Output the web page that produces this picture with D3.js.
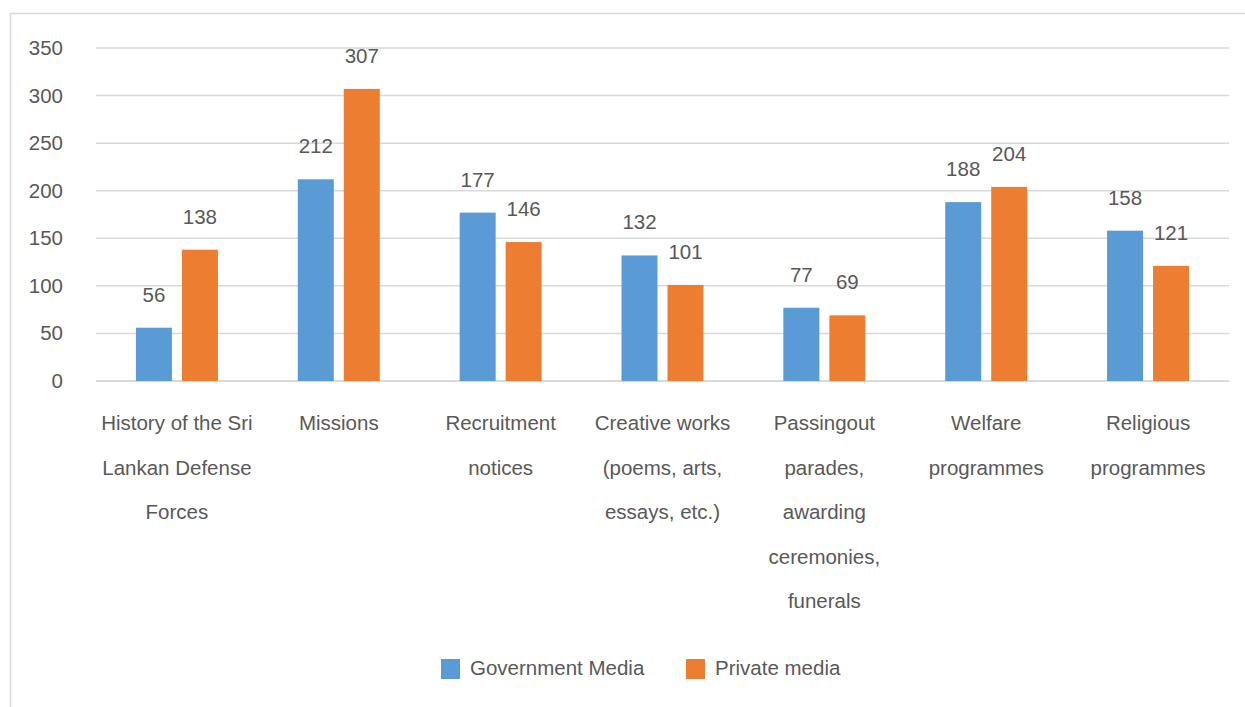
<!DOCTYPE html>
<html>
<head>
<meta charset="utf-8">
<script src="https://cdn.jsdelivr.net/npm/d3@7"></script>
<style>
  html, body { margin: 0; padding: 0; background: #fff; }
  svg { display: block; font-family: "Liberation Sans", Arial, sans-serif; }
</style>
</head>
<body>
<svg id="chart" width="1245" height="707"></svg>
<script>
// Content categories (line breaks mark how each axis label wraps)
const categories = [
  "History of the Sri\nLankan Defense\nForces",
  "Missions",
  "Recruitment\nnotices",
  "Creative works\n(poems, arts,\nessays, etc.)",
  "Passingout\nparades,\nawarding\nceremonies,\nfunerals",
  "Welfare\nprogrammes",
  "Religious\nprogrammes"
];
const seriesNames = ["Government Media", "Private media"];
const governmentMedia = [56, 212, 177, 132, 77, 188, 158];
const privateMedia = [138, 307, 146, 101, 69, 204, 121];
const yTicks = [0, 50, 100, 150, 200, 250, 300, 350];
const colors = ["#5b9bd5", "#ed7d31"];

const svg = d3.select("#chart");
const textColor = "#595959";
const gridColor = "#d9d9d9";
const fontSize = "20.5px";

// Outer chart frame (top and left edges)
svg.append("line").attr("x1", 10).attr("x2", 1245).attr("y1", 13.5).attr("y2", 13.5)
  .attr("stroke", gridColor).attr("stroke-width", 1.5);
svg.append("line").attr("x1", 10.5).attr("x2", 10.5).attr("y1", 13).attr("y2", 707)
  .attr("stroke", gridColor).attr("stroke-width", 1.5);

const plot = { left: 96, right: 1229, top: 48, bottom: 381 };

const x0 = d3.scaleBand().domain(d3.range(categories.length))
  .range([plot.left, plot.right]).paddingInner(0).paddingOuter(0);
const y = d3.scaleLinear().domain([0, 350]).range([plot.bottom, plot.top]);

// Horizontal gridlines
svg.append("g").selectAll("line").data(yTicks).join("line")
  .attr("x1", plot.left).attr("x2", plot.right)
  .attr("y1", d => y(d)).attr("y2", d => y(d))
  .attr("stroke", gridColor).attr("stroke-width", d => d === 0 ? 2 : 1.5);

// Y axis tick labels
const yAxis = d3.axisLeft(y).tickValues(yTicks).tickSize(0).tickPadding(0);
const yg = svg.append("g").attr("transform", `translate(${63},0)`).call(yAxis);
yg.select(".domain").remove();
yg.selectAll("text").attr("fill", textColor).style("font-size", fontSize)
  .style("font-family", "Liberation Sans, Arial, sans-serif");

// Bars: two per category
const barW = 36, gap = 10;
const series = [governmentMedia, privateMedia];
series.forEach((vals, s) => {
  const offset = s === 0 ? -(gap / 2 + barW) : gap / 2;
  const g = svg.append("g");
  g.selectAll("rect").data(vals).join("rect")
    .attr("x", (d, i) => x0(i) + x0.bandwidth() / 2 + offset)
    .attr("y", d => y(d))
    .attr("width", barW)
    .attr("height", d => y(0) - y(d))
    .attr("fill", colors[s]);
  g.selectAll("text").data(vals).join("text")
    .attr("x", (d, i) => x0(i) + x0.bandwidth() / 2 + offset + barW / 2)
    .attr("y", d => y(d) - 26)
    .attr("text-anchor", "middle")
    .attr("fill", textColor)
    .style("font-size", fontSize)
    .text(d => d);
});

// Category labels, wrapped over several lines
const catG = svg.append("g");
categories.forEach((c, i) => {
  const lines = c.split("\n");
  const t = catG.append("text")
    .attr("text-anchor", "middle")
    .attr("fill", textColor)
    .style("font-size", fontSize);
  lines.forEach((ln, k) => {
    t.append("tspan")
      .attr("x", x0(i) + x0.bandwidth() / 2)
      .attr("y", 430 + k * 44.5)
      .text(ln);
  });
});

// Legend
const legend = svg.append("g");
const legendItems = [
  { name: seriesNames[0], color: colors[0], x: 441 },
  { name: seriesNames[1], color: colors[1], x: 686 }
];
legendItems.forEach(it => {
  legend.append("rect").attr("x", it.x).attr("y", 659).attr("width", 19).attr("height", 20)
    .attr("fill", it.color);
  legend.append("text").attr("x", it.x + 29).attr("y", 675)
    .attr("fill", textColor).style("font-size", fontSize).text(it.name);
});
</script>
</body>
</html>
